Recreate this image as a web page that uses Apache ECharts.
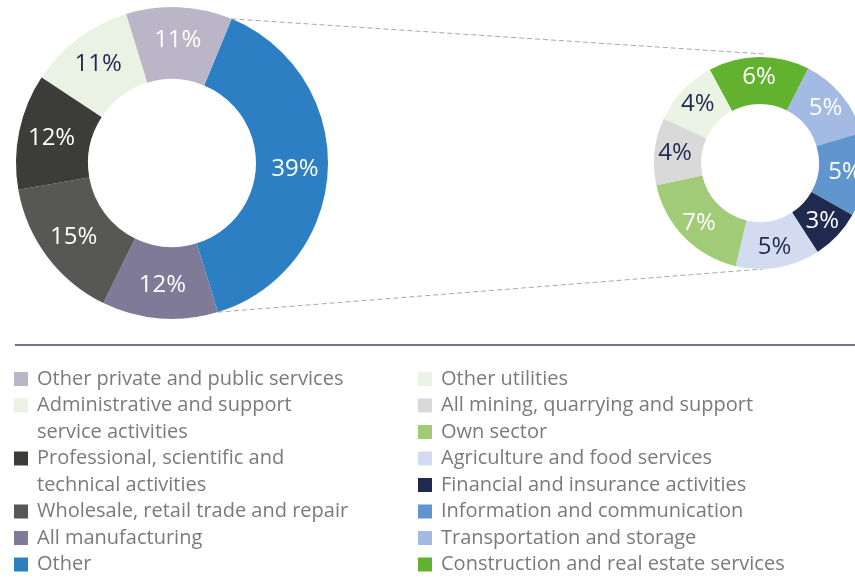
<!DOCTYPE html>
<html>
<head>
<meta charset="utf-8">
<script src="https://cdn.jsdelivr.net/npm/echarts@6/dist/echarts.min.js"></script>
<style>
    html, body { margin: 0; padding: 0; background: #fff; }
    #main { width: 855px; height: 578px; }
</style>
</head>
<body>
<div id="main"></div>
<script>
    // left donut: share by sector (%), clockwise from "Other"
    var mainNames = ['Other', 'All manufacturing', 'Wholesale, retail trade and repair',
        'Professional, scientific and technical activities',
        'Administrative and support service activities', 'Other private and public services']
    var mainValues = [39, 12, 15, 12, 11, 11]
    var mainColors = ['#2d7fc3', '#7f7a98', '#575756', '#3c3c3b', '#eaf3e3', '#bab6c8']
    var mainLabelColors = ['#fff', '#fff', '#fff', '#fff', '#1f2a4e', '#fff']

    // right donut: breakdown of "Other" (%), clockwise from the top
    var otherNames = ['Construction and real estate services', 'Transportation and storage',
        'Information and communication', 'Financial and insurance activities',
        'Agriculture and food services', 'Own sector', 'All mining, quarrying and support', 'Other utilities']
    var otherValues = [6, 5, 5, 3, 5, 7, 4, 4]
    var otherColors = ['#62b22f', '#a3bbe2', '#6195ce', '#1f2a4e', '#d3dbf1', '#a2cb78', '#d9d9d9', '#eaf4e4']
    var otherLabelColors = ['#fff', '#fff', '#fff', '#fff', '#1f2a4e', '#fff', '#1f2a4e', '#1f2a4e']

    // legend columns (display text may wrap)
    var legendLeft = ['Other private and public services',
        'Administrative and support service activities',
        'Professional, scientific and technical activities',
        'Wholesale, retail trade and repair', 'All manufacturing', 'Other']
    var legendLeftText = ['Other private and public services',
        'Administrative and support\nservice activities',
        'Professional, scientific and\ntechnical activities',
        'Wholesale, retail trade and repair', 'All manufacturing', 'Other']
    var legendRight = ['Other utilities', 'All mining, quarrying and support', 'Own sector',
        'Agriculture and food services', 'Financial and insurance activities',
        'Information and communication', 'Transportation and storage',
        'Construction and real estate services']

    var FONT = '"Open Sans", "Noto Sans", sans-serif'
    var mainCenter = [172, 163], mainR = [84, 156]
    var otherCenter = [760, 163], otherR = [59, 106]
    var mainStart = 67.5
    var otherStart = 118.3

    function sum (arr) {
        return arr.reduce(function (a, b) { return a + b }, 0)
    }
    function toData (names, values, colors, labelColors) {
        return names.map(function (n, i) {
            return {
                name: n,
                value: values[i],
                itemStyle: { color: colors[i] },
                label: { color: labelColors[i] }
            }
        })
    }
    function pt (c, r, deg) {
        var a = deg * Math.PI / 180
        return [c[0] + r * Math.cos(a), c[1] - r * Math.sin(a)]
    }

    // legends: one per item so wrapped entries keep the square on the first line
    var rowH = 26.5
    var row0 = 379
    var box = 14
    var legends = []
    var leftRow = 0
    legendLeft.forEach(function (name, i) {
        var txt = legendLeftText[i]
        var lines = txt.split('\n').length
        legends.push(makeLegend(name, txt, 14, leftRow, lines))
        leftRow += lines
    })
    legendRight.forEach(function (name, i) {
        legends.push(makeLegend(name, name, 418, i, 1))
    })
    function makeLegend (name, txt, left, row, lines) {
        // taller icon box for wrapped text; the square stays at its top
        var h = box + (lines - 1) * rowH
        var icon = lines > 1
            ? 'path://M0,0H' + box + 'V' + box + 'H0Z M0,' + h + 'L0.01,' + h
            : 'rect'
        return {
            data: [name],
            left: left,
            top: row0 + row * rowH - rowH / 2,
            padding: 0,
            orient: 'vertical',
            icon: icon,
            itemWidth: box,
            itemHeight: h,
            selectedMode: false,
            formatter: function () { return txt },
            textStyle: {
                fontSize: 20,
                fontFamily: FONT,
                color: '#7a7a7a',
                lineHeight: rowH,
                padding: [0, 0, 0, 4]
            }
        }
    }

    // "Other" slice edges joined to the right donut
    var otherSpan = mainValues[0] / sum(mainValues) * 360
    var p1 = pt(mainCenter, mainR[1], mainStart)
    var p2 = pt(mainCenter, mainR[1], mainStart - otherSpan)
    var q1 = pt(otherCenter, otherR[1] + 3, 87)
    var q2 = pt(otherCenter, otherR[1], -88)
    var dash = { stroke: '#a8a8a8', lineWidth: 1, lineDash: [5, 3] }

    var myChart = echarts.init(document.getElementById('main'))
    myChart.setOption({
        animation: false,
        legend: legends,
        graphic: [
            { type: 'line', shape: { x1: p1[0], y1: p1[1], x2: q1[0], y2: q1[1] }, style: dash, silent: true },
            { type: 'line', shape: { x1: p2[0], y1: p2[1], x2: q2[0], y2: q2[1] }, style: dash, silent: true },
            { type: 'line', shape: { x1: 15, y1: 345, x2: 855, y2: 345 }, style: { stroke: '#6e7689', lineWidth: 2 }, silent: true }
        ],
        series: [{
            type: 'pie',
            center: mainCenter,
            radius: mainR,
            startAngle: mainStart,
            clockwise: true,
            silent: true,
            avoidLabelOverlap: false,
            label: { position: 'inside', formatter: '{c}%', fontSize: 24, fontFamily: FONT },
            labelLine: { show: false },
            emphasis: { disabled: true },
            data: toData(mainNames, mainValues, mainColors, mainLabelColors)
        }, {
            type: 'pie',
            center: otherCenter,
            radius: otherR,
            startAngle: otherStart,
            clockwise: true,
            silent: true,
            avoidLabelOverlap: false,
            label: { position: 'inside', formatter: '{c}%', fontSize: 24, fontFamily: FONT },
            labelLine: { show: false },
            emphasis: { disabled: true },
            data: toData(otherNames, otherValues, otherColors, otherLabelColors)
        }]
    })
    window.onresize = myChart.resize
</script>
</body>
</html>
